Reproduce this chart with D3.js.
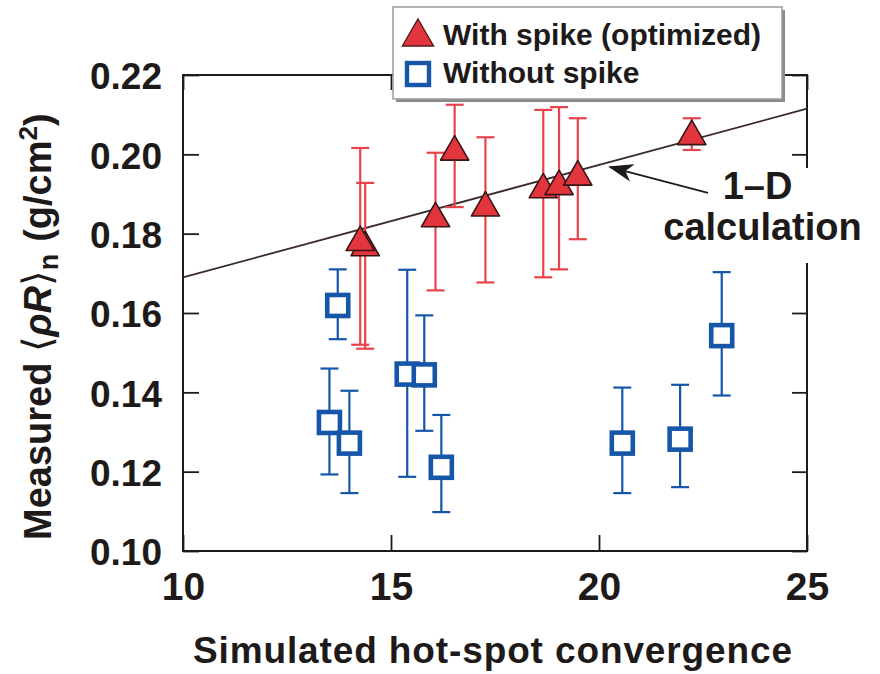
<!DOCTYPE html>
<html>
<head>
<meta charset="utf-8">
<script src="https://cdn.jsdelivr.net/npm/d3@7/dist/d3.min.js"></script>
<style>
  html, body { margin: 0; padding: 0; background: #fff; }
  svg { display: block; }
  text { font-family: "Liberation Sans", Arial, Helvetica, sans-serif; fill: #1e1a1a; }
</style>
</head>
<body>
<svg id="chart" width="880" height="674"></svg>
<script>
// ---------------- data ----------------
const xTicks = [10, 15, 20, 25];
const yTicks = [0.10, 0.12, 0.14, 0.16, 0.18, 0.20, 0.22];

// With spike (optimized) – red triangles
const spikeX  = [14.38, 14.26, 16.07, 16.53, 17.27, 18.66, 19.04, 19.49, 22.23];
const spikeY  = [0.1765, 0.1778, 0.1838, 0.2006, 0.1865, 0.1911, 0.1919, 0.1943, 0.2045];
const spikeHi = [0.1928, 0.2016, 0.2004, 0.2125, 0.2043, 0.2112, 0.2119, 0.2091, 0.2091];
const spikeLo = [0.1510, 0.1520, 0.1657, 0.1867, 0.1677, 0.1690, 0.1710, 0.1786, 0.2011];

// Without spike – blue squares
const noSpikeX  = [13.72, 13.52, 14.00, 15.39, 15.80, 16.21, 20.56, 21.95, 22.95];
const noSpikeY  = [0.1619, 0.1324, 0.1272, 0.1446, 0.1444, 0.1211, 0.1272, 0.1282, 0.1543];
const noSpikeHi = [0.1710, 0.1460, 0.1404, 0.1709, 0.1594, 0.1343, 0.1412, 0.1419, 0.1703];
const noSpikeLo = [0.1534, 0.1193, 0.1146, 0.1187, 0.1303, 0.1098, 0.1146, 0.1161, 0.1392];

// 1-D calculation line
const calcX = [10, 25];
const calcY = [0.169, 0.2115];

// annotation arrow (tail -> tip) in data units
const arrowX = [22.62, 20.26];
const arrowY = [0.1903, 0.1968];

const legendLabels = ["With spike (optimized)", "Without spike"];

// ---------------- layout ----------------
const svg = d3.select("#chart");
const x = d3.scaleLinear().domain([10, 25]).range([183, 807]);
const y = d3.scaleLinear().domain([0.10, 0.22]).range([551, 75]);

const RED = "#e3353d";
const RED_BAR = "#e8434b";
const BLUE = "#1656a8";
const INK = "#1e1a1a";

// axes
const gL = svg.append("g").attr("transform", `translate(${x(10)},0)`)
  .call(d3.axisLeft(y).tickValues(yTicks).tickSize(-16).tickSizeOuter(0).tickPadding(21)
    .tickFormat(d3.format(".2f")));
gL.selectAll("text").attr("font-size", 37).attr("font-weight", "bold").attr("dy", "0.37em");

const gB = svg.append("g").attr("transform", `translate(0,${y(0.10)})`)
  .call(d3.axisBottom(x).tickValues(xTicks).tickSize(-16).tickSizeOuter(0).tickPadding(21)
    .tickFormat(d3.format("d")));
gB.selectAll("text").attr("font-size", 39).attr("font-weight", "bold");

const gR = svg.append("g").attr("transform", `translate(${x(25)},0)`)
  .call(d3.axisRight(y).tickValues(yTicks).tickSize(-15).tickSizeOuter(0).tickFormat(""));
const gT = svg.append("g").attr("transform", `translate(0,${y(0.22)})`)
  .call(d3.axisTop(x).tickValues(xTicks).tickSize(-15).tickSizeOuter(0).tickFormat(""));

[gL, gB, gR, gT].forEach(g => {
  g.select(".domain").remove();
  g.selectAll(".tick line").attr("stroke", INK).attr("stroke-width", 1.8);
  g.selectAll("text").style("fill", INK);
});

svg.append("rect")
  .attr("x", x(10)).attr("y", y(0.22))
  .attr("width", x(25) - x(10)).attr("height", y(0.10) - y(0.22))
  .attr("fill", "none").attr("stroke", INK).attr("stroke-width", 2);

// 1-D calculation line
const calc = calcX.map((d, i) => [d, calcY[i]]);
svg.append("path")
  .attr("d", d3.line().x(d => x(d[0])).y(d => y(d[1]))(calc))
  .attr("fill", "none").attr("stroke", "#3b2a2a").attr("stroke-width", 1.8);

// error bars
function errorBars(xs, lo, hi, color) {
  const g = svg.append("g").attr("stroke", color).attr("stroke-width", 2.2).attr("fill", "none");
  xs.forEach((xv, i) => {
    const px = x(xv);
    g.append("line").attr("x1", px).attr("x2", px).attr("y1", y(lo[i])).attr("y2", y(hi[i]));
    g.append("line").attr("x1", px - 9).attr("x2", px + 9).attr("y1", y(lo[i])).attr("y2", y(lo[i]));
    g.append("line").attr("x1", px - 9).attr("x2", px + 9).attr("y1", y(hi[i])).attr("y2", y(hi[i]));
  });
}
errorBars(noSpikeX, noSpikeLo, noSpikeHi, BLUE);
errorBars(spikeX, spikeLo, spikeHi, RED_BAR);

// markers
const tri = d3.symbol().type(d3.symbolTriangle).size(345);
svg.append("g").selectAll("path").data(spikeX.map((d, i) => [d, spikeY[i]]))
  .join("path")
  .attr("d", tri)
  .attr("transform", d => `translate(${x(d[0])},${y(d[1])})`)
  .attr("fill", RED).attr("stroke", "#3a1414").attr("stroke-width", 1.6)
  .attr("stroke-linejoin", "round");

const side = 21;
svg.append("g").selectAll("rect").data(noSpikeX.map((d, i) => [d, noSpikeY[i]]))
  .join("rect")
  .attr("x", d => x(d[0]) - side / 2).attr("y", d => y(d[1]) - side / 2)
  .attr("width", side).attr("height", side)
  .attr("fill", "#fff").attr("stroke", BLUE).attr("stroke-width", 4.6);

// annotation: white background, arrow, label
svg.append("rect").attr("x", 712).attr("y", 168).attr("width", 104).attr("height", 40).attr("fill", "#fff");
svg.append("rect").attr("x", 660).attr("y", 206).attr("width", 215).attr("height", 57).attr("fill", "#fff");

svg.append("defs").append("marker")
  .attr("id", "ah").attr("viewBox", "0 0 14 10").attr("refX", 13).attr("refY", 5)
  .attr("markerWidth", 25).attr("markerHeight", 18).attr("markerUnits", "userSpaceOnUse")
  .attr("orient", "auto")
  .append("path").attr("d", "M0,0 L14,5 L0,10 L4,5 Z").attr("fill", INK);
const ax = arrowX.map((d, i) => [x(d), y(arrowY[i])]);
svg.append("line")
  .attr("x1", ax[0][0]).attr("y1", ax[0][1]).attr("x2", ax[1][0]).attr("y2", ax[1][1])
  .attr("stroke", INK).attr("stroke-width", 1.8).attr("marker-end", "url(#ah)");

svg.append("text").attr("x", 757.5).attr("y", 199).attr("text-anchor", "middle")
  .attr("font-size", 38).attr("font-weight", "bold").text("1–D");
svg.append("text").attr("x", 762.5).attr("y", 240).attr("text-anchor", "middle")
  .attr("font-size", 38).attr("font-weight", "bold").text("calculation");

// axis titles
svg.append("text").attr("x", 193).attr("y", 663).attr("font-size", 37).attr("font-weight", "bold")
  .attr("textLength", 599).attr("lengthAdjust", "spacing")
  .text("Simulated hot-spot convergence");

const yt = svg.append("text").attr("transform", "translate(51,540) rotate(-90)")
  .attr("font-size", 38).attr("font-weight", "bold");
yt.append("tspan").text("Measured ");
yt.append("tspan").attr("font-family", "DejaVu Sans").attr("font-weight", "normal").attr("font-size", 40).text("⟨");
yt.append("tspan").attr("font-style", "italic").text("ρR");
yt.append("tspan").attr("font-family", "DejaVu Sans").attr("font-weight", "normal").attr("font-size", 40).text("⟩");
yt.append("tspan").attr("font-size", 27).attr("dy", 7).text("n");
yt.append("tspan").attr("dy", -7).attr("dx", 12).text("(g/cm");
yt.append("tspan").attr("font-size", 26).attr("dy", -14).text("2");
yt.append("tspan").attr("dy", 14).text(")");

// legend
const lg = svg.append("g");
lg.append("rect").attr("x", 396).attr("y", 10).attr("width", 389).attr("height", 92).attr("fill", "#8a8a8a");
lg.append("rect").attr("x", 393).attr("y", 7).attr("width", 389).attr("height", 92)
  .attr("fill", "#fff").attr("stroke", "#9a9a9a").attr("stroke-width", 1.5);
lg.append("path").attr("d", d3.symbol().type(d3.symbolTriangle).size(420)())
  .attr("transform", "translate(418,37)")
  .attr("fill", RED).attr("stroke", "#5a1a1a").attr("stroke-width", 1.4);
lg.append("rect").attr("x", 418 - 11).attr("y", 74 - 11).attr("width", 22).attr("height", 22)
  .attr("fill", "#fff").attr("stroke", BLUE).attr("stroke-width", 4.4);
lg.selectAll("text.lab").data(legendLabels).join("text").attr("class", "lab")
  .attr("x", 443).attr("y", (d, i) => i === 0 ? 45 : 82.7)
  .attr("font-size", 30).attr("font-weight", "bold").text(d => d);
</script>
</body>
</html>
